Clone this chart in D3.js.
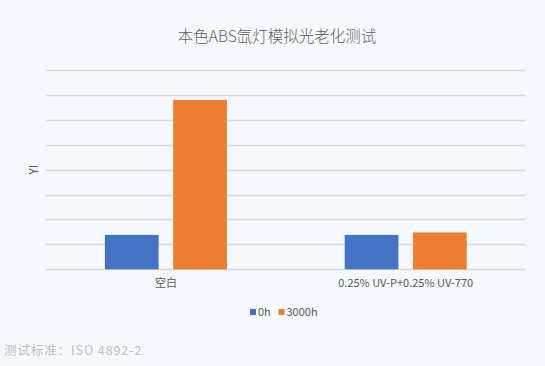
<!DOCTYPE html>
<html>
<head>
<meta charset="utf-8">
<script src="https://cdn.jsdelivr.net/npm/d3@7"></script>
<style>
  html, body { margin: 0; padding: 0; background: #f5f9fd; }
  svg { display: block; font-family: "Noto Sans CJK SC", "Noto Sans", sans-serif; }
</style>
</head>
<body>
<div id="chart"></div>
<script>
const categories = ['空白', '0.25% UV-P+0.25% UV-770'];
const seriesNames = ['0h', '3000h'];
const series0h = [6.9, 6.9];
const series3000h = [34.0, 7.4];
const yTicks = [0, 5, 10, 15, 20, 25, 30, 35, 40];
const colors = ['#4472c4', '#ed7d31'];

const width = 545, height = 366;
const margin = { top: 70, right: 19.4, bottom: 96.7, left: 46 };
const innerW = width - margin.left - margin.right;
const innerH = height - margin.top - margin.bottom;

const svg = d3.select('#chart').append('svg')
  .attr('width', width)
  .attr('height', height);

svg.append('rect')
  .attr('width', width)
  .attr('height', height)
  .attr('fill', '#f5f9fd');

// Title
svg.append('text')
  .attr('x', 277)
  .attr('y', 42)
  .attr('text-anchor', 'middle')
  .attr('fill', '#5f5f5f')
  .style('font-size', '15.5px')
  .style('font-weight', '300')
  .text('本色ABS氙灯模拟光老化测试');

const g = svg.append('g')
  .attr('transform', `translate(${margin.left},${margin.top})`);

const x0 = d3.scaleBand()
  .domain(categories)
  .range([0, innerW]);

const groupW = 122;
const x1 = d3.scaleBand()
  .domain(seriesNames)
  .range([(x0.bandwidth() - groupW) / 2, (x0.bandwidth() + groupW) / 2])
  .paddingInner(0.214);

const y = d3.scaleLinear()
  .domain([0, 40])
  .range([innerH, 0]);

// Gridlines
g.selectAll('.grid')
  .data(yTicks)
  .enter()
  .append('line')
  .attr('class', 'grid')
  .attr('x1', 0)
  .attr('x2', innerW)
  .attr('y1', d => Math.round(y(d)) + 0.5)
  .attr('y2', d => Math.round(y(d)) + 0.5)
  .attr('stroke', '#d9d9d9')
  .attr('stroke-width', 1.3);

// Bars
const rows = categories.map((c, i) => ({ cat: c, values: [series0h[i], series3000h[i]] }));

const groups = g.selectAll('.grp')
  .data(rows)
  .enter()
  .append('g')
  .attr('transform', d => `translate(${x0(d.cat)},0)`);

groups.selectAll('rect')
  .data(d => d.values.map((v, j) => ({ key: seriesNames[j], v, j })))
  .enter()
  .append('rect')
  .attr('x', d => x1(d.key))
  .attr('y', d => y(d.v))
  .attr('width', x1.bandwidth())
  .attr('height', d => innerH - y(d.v))
  .attr('fill', d => colors[d.j]);

// X axis labels
const xAxis = g.append('g')
  .attr('transform', `translate(0,${innerH})`)
  .call(d3.axisBottom(x0).tickSize(0).tickPadding(10));
xAxis.select('.domain').remove();
xAxis.selectAll('text')
  .attr('fill', '#595959')
  .style('font-size', '11px')
  .style('font-family', '"Noto Sans CJK SC", "Noto Sans", sans-serif');

// Y axis title
svg.append('text')
  .attr('transform', `translate(38,${margin.top + innerH / 2}) rotate(-90)`)
  .attr('text-anchor', 'middle')
  .attr('fill', '#595959')
  .style('font-size', '12px')
  .text('YI');

// Legend
const legend = svg.append('g')
  .attr('transform', 'translate(250,312)');
const legendItems = [
  { name: seriesNames[0], color: colors[0], dx: 0 },
  { name: seriesNames[1], color: colors[1], dx: 28.5 }
];
legendItems.forEach(it => {
  legend.append('rect')
    .attr('x', it.dx)
    .attr('y', -3)
    .attr('width', 6)
    .attr('height', 6)
    .attr('fill', it.color);
  legend.append('text')
    .attr('x', it.dx + 8)
    .attr('y', 4)
    .attr('fill', '#595959')
    .style('font-size', '11px')
    .text(it.name);
});

// Footer note
svg.append('text')
  .attr('x', 4)
  .attr('y', 355)
  .attr('fill', '#c0c0c0')
  .style('font-size', '12.5px')
  .style('letter-spacing', '0.9px')
  .text('测试标准：ISO 4892-2');
</script>
</body>
</html>
